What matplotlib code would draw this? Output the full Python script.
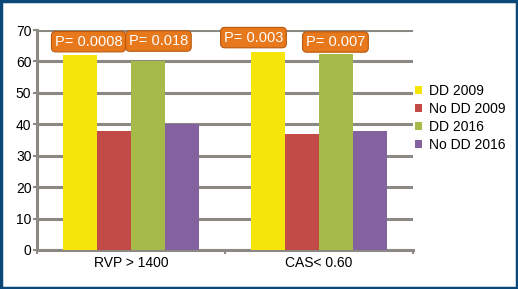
import matplotlib.pyplot as plt
import numpy as np
from matplotlib.patches import Rectangle

plt.rcParams["font.family"] = ["Liberation Sans", "DejaVu Sans"]

categories = ["RVP > 1400", "CAS< 0.60"]
series = ["DD 2009", "No DD 2009", "DD 2016", "No DD 2016"]
values = {
    "DD 2009": [62, 63],
    "No DD 2009": [38, 37],
    "DD 2016": [60, 62.5],
    "No DD 2016": [40, 38],
}
colors = ["#f5e50a", "#c24b48", "#a6ba4a", "#8462a0"]
p_labels = ["P= 0.0008", "P= 0.018", "P= 0.003", "P= 0.007"]
p_x = [-0.226, 0.146, 0.652, 1.088]
p_y = [66.3, 66.5, 67.6, 66.2]

fig = plt.figure(figsize=(5.18, 2.89), dpi=100)
ax = fig.add_axes([0.0714, 0.135, 0.7256, 0.761])

x = np.arange(len(categories))
width = 0.181
for i, (name, col) in enumerate(zip(series, colors)):
    ax.bar(x + (i - 1.5) * width, values[name], width, color=col, label=name, zorder=3)

grid_col = "#8c8884"
ax.set_ylim(0, 70)
ax.set_xlim(-0.5, 1.5)
ax.set_yticks(np.arange(0, 71, 10))
ax.yaxis.grid(True, color=grid_col, linewidth=2.2, zorder=0)
ax.set_axisbelow(True)
ax.set_xticks([-0.5, 0.5, 1.5])
ax.set_xticklabels([])
ax.set_xticks(x, minor=True)
ax.set_xticklabels(categories, minor=True, fontsize=10)
ax.tick_params(axis="x", which="minor", length=0, pad=4)
ax.tick_params(axis="x", which="major", length=3, width=1.5, color=grid_col)
ax.tick_params(axis="y", length=3, width=1.5, color=grid_col, labelsize=10, pad=1)
for side in ["top", "right"]:
    ax.spines[side].set_visible(False)
for side in ["left", "bottom"]:
    ax.spines[side].set_color(grid_col)
    ax.spines[side].set_linewidth(2.2)

for lab, px, py in zip(p_labels, p_x, p_y):
    ax.text(px, py, lab, ha="center", va="center", color="white", fontsize=10.5,
            zorder=5,
            bbox=dict(boxstyle="round,pad=0.22,rounding_size=0.3",
                      facecolor="#e7781c", edgecolor="#b9580f", linewidth=0.8))

ax.legend(loc="center left", bbox_to_anchor=(0.99, 0.60), frameon=False,
          fontsize=10, handlelength=0.55, handleheight=0.55, handletextpad=0.45,
          labelspacing=0.28, borderaxespad=0)

fig.patches.append(Rectangle((0.002, 0.003), 0.996, 0.994, transform=fig.transFigure,
                             fill=False, edgecolor="#0b4777", linewidth=2.5))

fig.savefig("out.png", dpi=100)
